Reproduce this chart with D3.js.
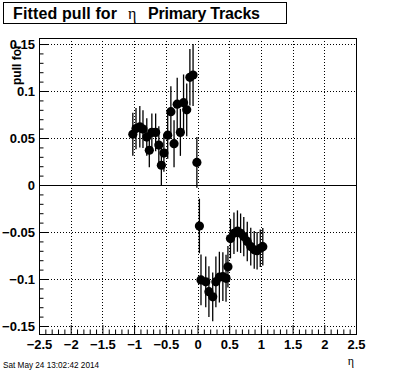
<!DOCTYPE html>
<html><head><meta charset="utf-8">
<script src="https://cdn.jsdelivr.net/npm/d3@7"></script>
<style>body{margin:0;background:#fff}svg{display:block}</style>
</head><body>
<script>
// ---- data ----
const etaValues = [-1.02,-0.97,-0.91,-0.86,-0.80,-0.76,-0.72,-0.66,-0.61,-0.57,-0.53,-0.47,-0.42,-0.37,-0.32,-0.27,-0.22,-0.17,-0.12,-0.07,-0.01,
                   0.03,0.055,0.13,0.18,0.24,0.29,0.345,0.40,0.45,0.48,0.52,0.575,0.63,0.68,0.73,0.785,0.84,0.895,0.94,0.99,1.03];
const pullValues = [0.054,0.060,0.062,0.0595,0.051,0.037,0.056,0.056,0.0425,0.021,0.034,0.053,0.078,0.044,0.086,0.056,0.0876,0.080,0.1146,0.117,0.024,
                    -0.0436,-0.101,-0.103,-0.1135,-0.119,-0.103,-0.098,-0.0975,-0.0993,-0.087,-0.057,-0.0513,-0.049,-0.0513,-0.0549,-0.060,-0.0655,-0.069,-0.0699,-0.0673,-0.0656];
const pullErrors = [0.023,0.022,0.022,0.020,0.020,0.018,0.020,0.020,0.020,0.022,0.020,0.025,0.027,0.025,0.028,0.025,0.030,0.028,0.030,0.033,0.027,
                    0.029,0.027,0.027,0.027,0.026,0.027,0.027,0.026,0.025,0.022,0.021,0.022,0.022,0.021,0.021,0.021,0.020,0.020,0.020,0.020,0.020];
const xTicks = [-2.5,-2,-1.5,-1,-0.5,0,0.5,1,1.5,2,2.5];
const yTicks = [-0.15,-0.1,-0.05,0,0.05,0.1,0.15];
const titleParts = ["Fitted pull for", "\u03b7", "Primary Tracks"];
const yTitle = "pull for";
const xTitle = "\u03b7";
const dateText = "Sat May 24 13:02:42 2014";

const W = 396, H = 372;
const svg = d3.select("body").append("svg").attr("width", W).attr("height", H);
const pL = 39, pR = 356, pT = 38, pB = 334;
const x = d3.scaleLinear().domain([-2.5, 2.5]).range([pL, pR]);
const y = d3.scaleLinear().domain([-0.1585, 0.1564]).range([pB, pT]);

// grid
const grid = svg.append("g").attr("stroke", "#000").attr("stroke-dasharray", "1,2").attr("stroke-width", 1);
xTicks.filter(t => t > -2.5 && t < 2.5).forEach(t => {
  grid.append("line").attr("x1", Math.round(x(t)) + 0.5).attr("x2", Math.round(x(t)) + 0.5).attr("y1", pT).attr("y2", pB);
});
yTicks.filter(t => t !== 0).forEach(t => {
  grid.append("line").attr("y1", Math.round(y(t)) + 0.5).attr("y2", Math.round(y(t)) + 0.5).attr("x1", pL).attr("x2", pR);
});
// zero line
svg.append("line").attr("x1", pL).attr("x2", pR).attr("y1", Math.round(y(0)) + 0.5).attr("y2", Math.round(y(0)) + 0.5).attr("stroke", "#000");

// axes
const xAxis = d3.axisBottom(x).tickValues(xTicks).tickSize(-9).tickPadding(12).tickFormat(d3.format(""));
const gx = svg.append("g").attr("transform", `translate(0,${pB})`).call(xAxis);
gx.select(".domain").remove();
const xMinor = d3.range(-25, 26).map(i => i / 10).filter(v => Math.abs(v * 2 - Math.round(v * 2)) > 1e-6);
svg.append("g").attr("transform", `translate(0,${pB})`)
  .call(d3.axisBottom(x).tickValues(xMinor).tickSize(-4.5).tickFormat(""))
  .select(".domain").remove();
const yAxis = d3.axisLeft(y).tickValues(yTicks).tickSize(-9).tickPadding(4).tickFormat(d => d === 0 ? "0" : d3.format("")(+d.toFixed(2)));
const gy = svg.append("g").attr("transform", `translate(${pL},0)`).call(yAxis);
gy.select(".domain").remove();
const yMinor = d3.range(-15, 16).map(i => i / 100).filter(v => Math.abs(v * 20 - Math.round(v * 20)) > 1e-6);
svg.append("g").attr("transform", `translate(${pL},0)`)
  .call(d3.axisLeft(y).tickValues(yMinor).tickSize(-4.5).tickFormat(""))
  .select(".domain").remove();
svg.selectAll(".tick line").attr("stroke", "#000");
svg.selectAll(".tick text").attr("font-family", "Liberation Sans, Arial, sans-serif").attr("font-weight", "bold").attr("font-size", 13).attr("fill", "#000");
gx.selectAll(".tick text").attr("dy", "0.71em").attr("y", 6);

// frame
svg.append("rect").attr("x", pL + 0.5).attr("y", pT + 0.5).attr("width", pR - pL).attr("height", pB - pT)
  .attr("fill", "none").attr("stroke", "#000");

// data
const pts = etaValues.map((e, i) => ({e, v: pullValues[i], s: pullErrors[i]}));
const plot = svg.append("g");
plot.selectAll("line.err").data(pts).join("line").attr("class", "err")
  .attr("x1", d => x(d.e)).attr("x2", d => x(d.e))
  .attr("y1", d => y(d.v + d.s)).attr("y2", d => y(d.v - d.s))
  .attr("stroke", "#000").attr("stroke-width", 1.3);
plot.selectAll("circle").data(pts).join("circle")
  .attr("cx", d => x(d.e)).attr("cy", d => y(d.v)).attr("r", 4.6).attr("fill", "#000");

// title box
svg.append("rect").attr("x", 3.5).attr("y", 2.5).attr("width", 283).attr("height", 21).attr("fill", "#fff").attr("stroke", "#000");
const tt = svg.append("text").attr("y", 18.5).attr("font-size", 16).attr("fill", "#000");
tt.append("tspan").attr("x", 13).attr("font-family", "Liberation Sans, Arial, sans-serif").attr("font-weight", "bold")
  .attr("textLength", 104).attr("lengthAdjust", "spacing").text(titleParts[0]);
tt.append("tspan").attr("x", 128).attr("font-family", "Liberation Serif, serif").text(titleParts[1]);
tt.append("tspan").attr("x", 148).attr("font-family", "Liberation Sans, Arial, sans-serif").attr("font-weight", "bold")
  .attr("textLength", 112).attr("lengthAdjust", "spacing").text(titleParts[2]);

// y title
svg.append("text").attr("transform", "translate(21,85) rotate(-90)").attr("text-anchor", "start")
  .attr("font-family", "Liberation Sans, Arial, sans-serif").attr("font-weight", "bold").attr("font-size", 12).text(yTitle);
// x title
svg.append("text").attr("x", 354).attr("y", 365).attr("text-anchor", "end")
  .attr("font-family", "Liberation Serif, serif").attr("font-size", 12).text(xTitle);
// date
svg.append("text").attr("x", 3).attr("y", 368).attr("font-family", "Liberation Sans, Arial, sans-serif")
  .attr("font-size", 8.2).text(dateText);
</script>
</body></html>
